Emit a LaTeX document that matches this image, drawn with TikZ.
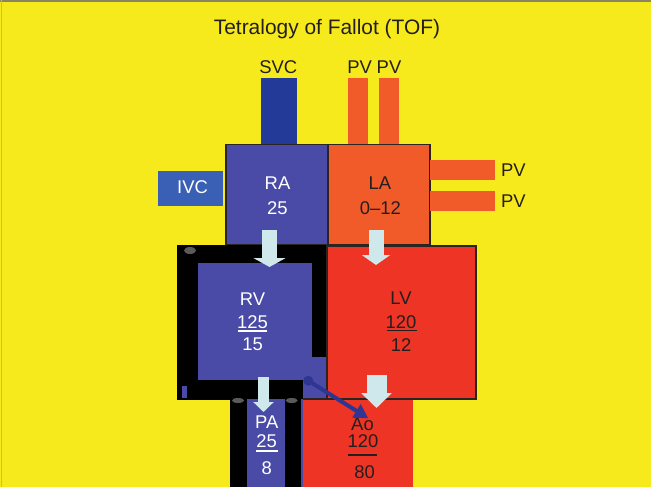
\documentclass[tikz,border=0pt]{standalone}
\usepackage{fontspec}
\setmainfont{Liberation Sans}
\usetikzlibrary{arrows.meta}
\definecolor{bgyellow}{HTML}{F7EA1C}
\definecolor{framegray}{HTML}{8A8460}
\definecolor{chamberblue}{HTML}{4A4BA6}
\definecolor{svcblue}{HTML}{243A98}
\definecolor{ivcblue}{HTML}{3A60B6}
\definecolor{pvorange}{HTML}{F15A29}
\definecolor{lvred}{HTML}{EE3424}
\definecolor{flowcyan}{HTML}{CFE8EC}
\definecolor{shuntblue}{HTML}{2E3592}
\definecolor{textdark}{HTML}{231F20}
\definecolor{boxline}{HTML}{2A2422}
\definecolor{blobgray}{HTML}{5A5A5A}
\begin{document}
\begin{tikzpicture}[x=1bp,y=-1bp,
  box/.style={inner sep=0pt, outer sep=0pt, draw=none},
  chamber/.style={box, draw=boxline, line width=1.3bp},
  lbl/.style={font=\fontsize{18.5}{20}\selectfont, inner sep=0pt, anchor=base},
  wl/.style={lbl, text=white},
  dl/.style={lbl, text=textdark},
  ulw/.style={draw=white, line width=1.3bp},
  uld/.style={draw=textdark, line width=1.3bp},
  flow/.style={draw=flowcyan},
  shunt/.style={draw=shuntblue, line width=4bp, -{Triangle[width=15bp,length=14bp]}},
  blob/.style={fill=blobgray, draw=none}
]
\useasboundingbox (0,0) rectangle (651,487);
\fill[bgyellow] (0,0) rectangle (651,487);
\draw[framegray, line width=2bp] (0,1) -- (651,1);
\draw[framegray!60, line width=1bp] (1,0) -- (1,487);

% title
\node[dl, font=\fontsize{21}{24}\selectfont] (title) at (327,35) {Tetralogy of Fallot (TOF)};

% veins on top
\node[box, fill=svcblue, minimum width=36bp, minimum height=67bp] (SVC) at (279,111.5) {};
\node[box, fill=pvorange, minimum width=20bp, minimum height=67bp] (PV1) at (358,111.5) {};
\node[box, fill=pvorange, minimum width=20bp, minimum height=67bp] (PV2) at (389,111.5) {};
\node[dl] (SVCt) at (278.3,73.3) {SVC};
\node[dl] (PV1t) at (359.7,73.3) {PV};
\node[dl] (PV2t) at (389,73.3) {PV};

% atria
\node[chamber, fill=chamberblue, minimum width=102bp, minimum height=100.5bp] (RA) at (277,194.75) {};
\node[chamber, fill=pvorange, minimum width=102bp, minimum height=100.5bp] (LA) at (379,194.75) {};
\node[wl] (RAt1) at (277.5,189.3) {RA};
\node[wl] (RAt2) at (277.3,215) {25};
\node[dl] (LAt1) at (380,189.3) {LA};
\node[dl] (LAt2) at (380.3,215) {0–12};

% IVC
\node[box, fill=ivcblue, minimum width=64.7bp, minimum height=35.3bp] (IVC) at (190.35,188.35) {};
\node[wl] (IVCt) at (192.5,194) {IVC};

% right pulmonary veins
\node[box, fill=pvorange, minimum width=65bp, minimum height=20bp] (PV3) at (462.5,170) {};
\node[box, fill=pvorange, minimum width=65bp, minimum height=20bp] (PV4) at (462.5,200.7) {};
\node[dl] (PV3t) at (513.3,176.7) {PV};
\node[dl] (PV4t) at (513.3,207.7) {PV};

% right ventricle with hypertrophied (black) wall
\node[box, fill=black, minimum width=150bp, minimum height=155bp] (RVwall) at (252,322.5) {};
\node[box, fill=chamberblue, minimum width=114bp, minimum height=117bp] (RV) at (255,321.5) {};
\fill[chamberblue] (311,357) -- (327,357) -- (327,400) -- (303,400) -- (303,379) -- (311,379) -- cycle;
\fill[chamberblue] (181.7,386) rectangle (186.7,398);
\fill[blob] (190,250.5) ellipse (6bp and 3.5bp);
\node[wl] (RVt1) at (252.5,305) {RV};
\node[wl] (RVt2) at (252.5,328) {125};
\node[wl] (RVt3) at (252.5,350) {15};
\draw[ulw] (238.3,331) -- (266.7,331);

% left ventricle
\node[chamber, fill=lvred, minimum width=149bp, minimum height=153bp] (LV) at (401.5,322.5) {};
\node[dl] (LVt1) at (401,304.5) {LV};
\node[dl] (LVt2) at (401,328) {120};
\node[dl] (LVt3) at (401,351.7) {12};
\draw[uld] (386.7,330.5) -- (416.7,330.5);

% pulmonary artery
\node[box, fill=black, minimum width=71bp, minimum height=89bp] (PAwall) at (265.5,443.5) {};
\node[box, fill=chamberblue, minimum width=38bp, minimum height=89bp] (PA) at (266,443.5) {};
\fill[chamberblue] (301,399) rectangle (303.5,488);
\fill[blob] (238,400.5) ellipse (6bp and 2.5bp);
\fill[blob] (291.7,400.5) ellipse (6bp and 2.5bp);
\node[wl] (PAt1) at (266.7,428) {PA};
\node[wl] (PAt2) at (266.7,447) {25};
\node[wl] (PAt3) at (266.7,474) {8};
\draw[ulw] (256,451) -- (278,451);

% aorta
\node[box, fill=lvred, minimum width=110bp, minimum height=89bp] (Ao) at (358,443.5) {};
\draw[boxline, line width=1.3bp] (303,399) -- (476,399);
\node[dl] (Aot1) at (362.5,430) {Ao};
\node[dl] (Aot2) at (363,447) {120};
\node[dl] (Aot3) at (364.5,478) {80};
\draw[uld] (348,455) -- (377,455);

% flow arrows
\coordinate (f1s) at (269.5,230); \coordinate (f1e) at (269.5,267);
\coordinate (f2s) at (376,230);   \coordinate (f2e) at (376,265);
\coordinate (f3s) at (263.5,377); \coordinate (f3e) at (263.5,412);
\coordinate (f4s) at (376.5,375); \coordinate (f4e) at (376.5,408);
\draw[flow, line width=15bp, -{Triangle[width=32bp,length=9bp]}] (f1s) -- (f1e);
\draw[flow, line width=15bp, -{Triangle[width=28bp,length=10bp]}] (f2s) -- (f2e);
\draw[flow, line width=11bp, -{Triangle[width=20bp,length=10bp]}] (f3s) -- (f3e);
\draw[flow, line width=20bp, -{Triangle[width=30bp,length=15bp]}] (f4s) -- (f4e);

% overriding aorta shunt arrow
\node[circle, fill=shuntblue, inner sep=0pt, minimum size=10bp] (sdot) at (308.3,380.7) {};
\coordinate (stip) at (368.3,418.3);
\draw[shunt] (sdot.center) -- (stip);
\end{tikzpicture}
\end{document}
